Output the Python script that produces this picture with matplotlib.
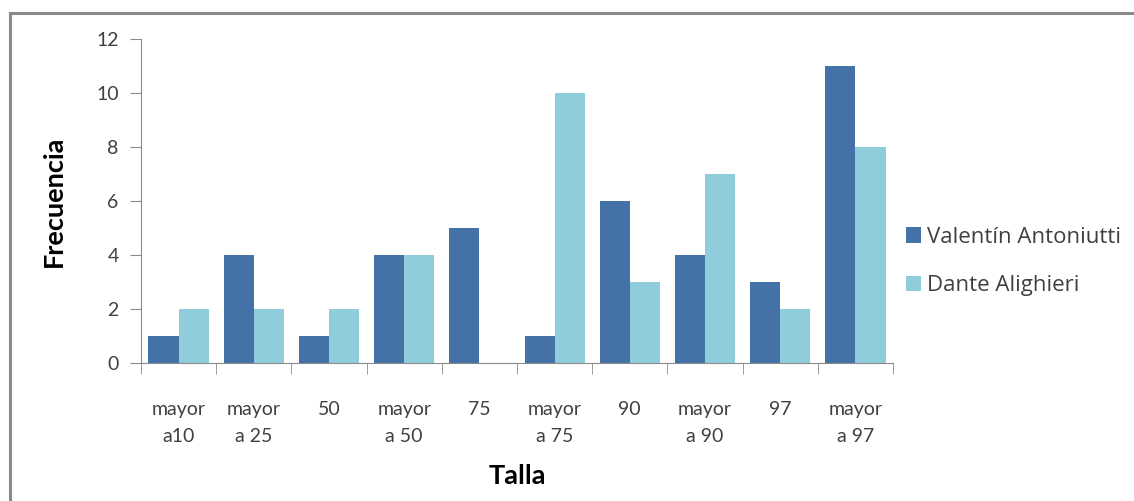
import matplotlib
matplotlib.use("Agg")
import matplotlib.pyplot as plt
from matplotlib.lines import Line2D
from matplotlib.ticker import FixedLocator
import numpy as np

categorias = ["mayor\na10", "mayor\na 25", "50", "mayor\na 50", "75",
              "mayor\na 75", "90", "mayor\na 90", "97", "mayor\na 97"]
valentin = [1, 4, 1, 4, 5, 1, 6, 4, 3, 11]
dante = [2, 2, 2, 4, 0, 10, 3, 7, 2, 8]

plt.rcParams['font.family'] = ['Lato', 'DejaVu Sans']

fig = plt.figure(figsize=(11.34, 5.01), dpi=100)
ax = fig.add_axes([0.1243, 0.2754, 0.6632, 0.6468])

x = np.arange(len(categorias))
w = 0.4
ax.bar(x - w / 2, valentin, w, color='#4471A8', label='Valentín Antoniutti')
ax.bar(x + w / 2, dante, w, color='#8FCCDC', label='Dante Alighieri')

ax.set_xlim(-0.5, len(categorias) - 0.5)
ax.set_ylim(0, 12)
ax.set_yticks(range(0, 13, 2))

# category labels without marks, boundary marks without labels
ax.set_xticks(x)
ax.set_xticklabels(categorias, fontsize=14, color='#404040', va='top',
                   linespacing=1.75)
ax.tick_params(axis='x', which='major', length=0, pad=27)
ax.xaxis.set_minor_locator(FixedLocator(np.arange(-0.5, len(categorias), 1)))
ax.tick_params(axis='x', which='minor', length=8, color='#8c8c8c', direction='out')
ax.tick_params(axis='y', labelsize=14, labelcolor='#404040', length=8,
               color='#8c8c8c', pad=8)

for s in ['top', 'right']:
    ax.spines[s].set_visible(False)
for s in ['left', 'bottom']:
    ax.spines[s].set_color('#8c8c8c')

ax.set_ylabel('Frecuencia', fontsize=19.5, fontweight='bold', labelpad=22)
ax.set_xlabel('Talla', fontsize=19.5, fontweight='bold', labelpad=14)

fig.legend(loc='center left', bbox_to_anchor=(0.781, 0.478), frameon=False,
           prop={'family': ['Open Sans', 'DejaVu Sans'], 'size': 16},
           handlelength=0.7, handleheight=0.7, handletextpad=0.25,
           labelspacing=1.25, labelcolor='#404040')

# chart frame on top and left edges
fig.add_artist(Line2D([0.0088, 1.0], [0.974, 0.974], color='#8a8a8a', lw=2.2,
                      transform=fig.transFigure))
fig.add_artist(Line2D([0.0088, 0.0088], [0.0, 0.974], color='#8a8a8a', lw=2.2,
                      transform=fig.transFigure))

fig.savefig('out.png', dpi=100)
